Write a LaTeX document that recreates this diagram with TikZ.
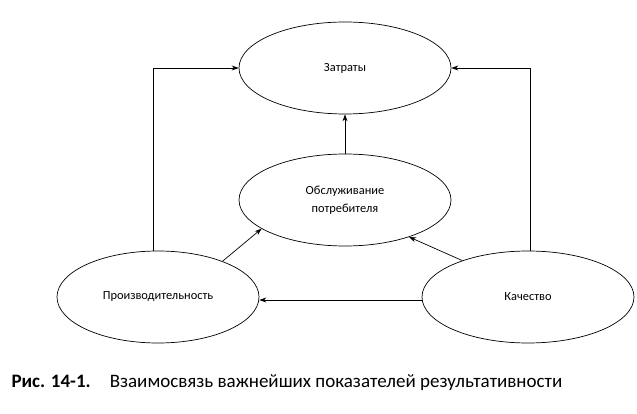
\documentclass[tikz,border=0pt]{standalone}
\usepackage{fontspec}
\setmainfont{Carlito}
\usetikzlibrary{shapes.geometric,arrows.meta}

\begin{document}
\begin{tikzpicture}[x=1pt,y=-1pt,
    factor/.style={ellipse,draw,line width=0.7pt,minimum width=212pt,minimum height=92pt,font=\fontsize{12.4}{15}\selectfont,align=center},
    link/.style={-{Stealth[length=7pt,width=5pt]},line width=0.7pt}]
  \useasboundingbox (0,0) rectangle (637,414);
  \node[factor](zatraty) at (345,68){Затраты};
  \node[factor](obsl) at (345,200){Обслуживание\\[3pt]потребителя};
  \node[factor,minimum width=202pt](proizv) at (158,297){Производительность};
  \node[factor](kach) at (528,297){Качество};
  % links
  \draw[link] (proizv.north -| 153,0) |- (zatraty.west);
  \draw[link] (kach.north -| 530,0) |- (zatraty.east);
  \draw[link] (obsl.north) -- (zatraty.south);
  \draw[link] (proizv.29) -- (obsl.199);
  \draw[link] (kach.151) -- (obsl.330);
  \draw[link] (kach.west |- 0,300) -- (proizv.east |- 0,300);
  % caption
  \node[anchor=west,font=\fontsize{19}{22}\selectfont](caption) at (8,383){\textbf{Рис. 14-1.}\quad Взаимосвязь важнейших показателей результативности};
\end{tikzpicture}
\end{document}
